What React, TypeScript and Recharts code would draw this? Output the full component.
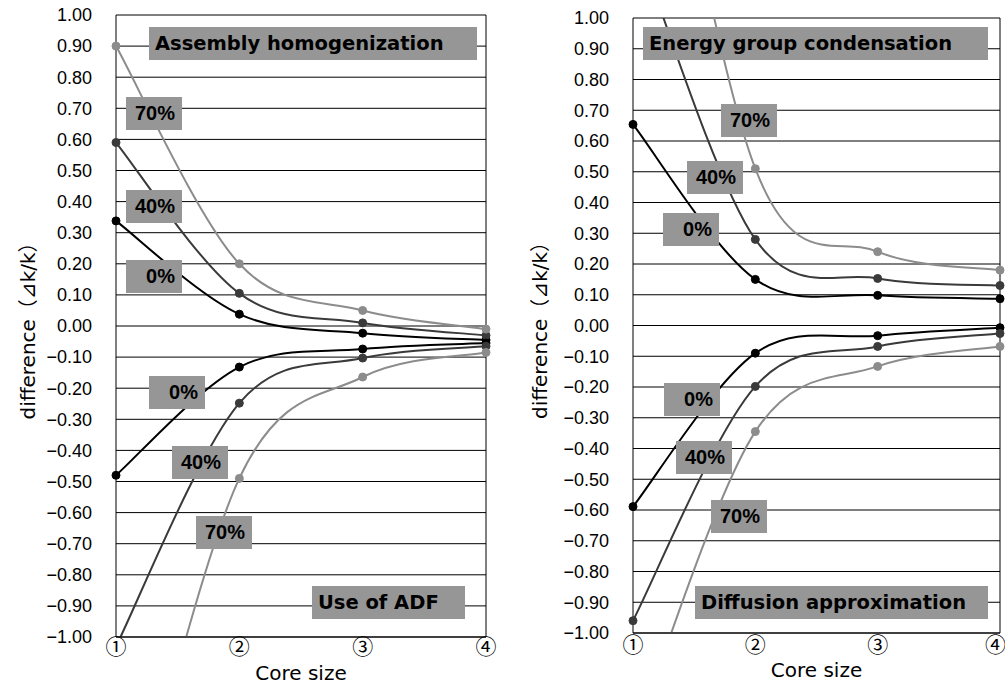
import React from 'react';
import {
  LineChart,
  Line,
  XAxis,
  YAxis,
  CartesianGrid,
  ReferenceLine,
} from 'recharts';

const categories = ['①', '②', '③', '④'];
const yTicks = [
  -1, -0.9, -0.8, -0.7, -0.6, -0.5, -0.4, -0.3, -0.2, -0.1, 0, 0.1, 0.2, 0.3,
  0.4, 0.5, 0.6, 0.7, 0.8, 0.9, 1,
];

// left panel, upper group: assembly homogenization
const ah0 = [0.338, 0.038, -0.023, -0.045];
const ah40 = [0.59, 0.105, 0.01, -0.03];
const ah70 = [0.9, 0.2, 0.05, -0.01];
// left panel, lower group: use of ADF
const adf0 = [-0.48, -0.132, -0.074, -0.055];
const adf40 = [-1.03, -0.248, -0.103, -0.065];
const adf70 = [-1.85, -0.49, -0.164, -0.085];

// right panel, upper group: energy group condensation
const egc0 = [0.654, 0.15, 0.098, 0.087];
const egc40 = [1.28, 0.28, 0.153, 0.13];
const egc70 = [2.3, 0.51, 0.24, 0.18];
// right panel, lower group: diffusion approximation
const dif0 = [-0.589, -0.09, -0.033, -0.007];
const dif40 = [-0.96, -0.198, -0.068, -0.026];
const dif70 = [-1.35, -0.345, -0.133, -0.068];

const C0 = '#000000';
const C40 = '#3a3a3a';
const C70 = '#8c8c8c';
const BOX = '#969696';

const leftData = categories.map((cat, i) => ({
  cat,
  a0: ah0[i],
  a40: ah40[i],
  a70: ah70[i],
  b0: adf0[i],
  b40: adf40[i],
  b70: adf70[i],
}));

const rightData = categories.map((cat, i) => ({
  cat,
  a0: egc0[i],
  a40: egc40[i],
  a70: egc70[i],
  b0: dif0[i],
  b40: dif40[i],
  b70: dif70[i],
}));

const seriesList = [
  { key: 'a0', color: C0 },
  { key: 'a40', color: C40 },
  { key: 'a70', color: C70 },
  { key: 'b0', color: C0 },
  { key: 'b40', color: C40 },
  { key: 'b70', color: C70 },
];

// Excel-like smoothed line (Catmull-Rom through the points)
const smoothCurve = (context: any) => {
  let xs: number[] = [];
  let ys: number[] = [];
  return {
    areaStart() {},
    areaEnd() {},
    lineStart() {
      xs = [];
      ys = [];
    },
    lineEnd() {
      const n = xs.length;
      if (!n) return;
      context.moveTo(xs[0], ys[0]);
      for (let i = 0; i < n - 1; i++) {
        const p = Math.max(i - 1, 0);
        const q = Math.min(i + 2, n - 1);
        context.bezierCurveTo(
          xs[i] + (xs[i + 1] - xs[p]) / 6,
          ys[i] + (ys[i + 1] - ys[p]) / 6,
          xs[i + 1] - (xs[q] - xs[i]) / 6,
          ys[i + 1] - (ys[q] - ys[i]) / 6,
          xs[i + 1],
          ys[i + 1]
        );
      }
    },
    point(x: number, y: number) {
      xs.push(+x);
      ys.push(+y);
    },
  };
};

const fmt = (v: number) => (v < 0 ? '\u2212' : '') + Math.abs(v).toFixed(2);

type Note = { text: string; x: number; y: number; w: number; pct?: boolean };

const notes: Note[] = [
  { text: 'Assembly homogenization', x: 149, y: 27, w: 328 },
  { text: '70%', x: 126, y: 97, w: 56, pct: true },
  { text: '40%', x: 126, y: 190, w: 56, pct: true },
  { text: '0%', x: 126, y: 260, w: 56, pct: true },
  { text: '0%', x: 149, y: 376, w: 56, pct: true },
  { text: '40%', x: 172, y: 446, w: 56, pct: true },
  { text: '70%', x: 196, y: 516, w: 56, pct: true },
  { text: 'Use of ADF', x: 312, y: 586, w: 153 },
  { text: 'Energy group condensation', x: 643, y: 27, w: 345 },
  { text: '70%', x: 721, y: 104, w: 56, pct: true },
  { text: '40%', x: 687, y: 161, w: 56, pct: true },
  { text: '0%', x: 663, y: 213, w: 56, pct: true },
  { text: '0%', x: 664, y: 383, w: 56, pct: true },
  { text: '40%', x: 676, y: 441, w: 56, pct: true },
  { text: '70%', x: 711, y: 500, w: 56, pct: true },
  { text: 'Diffusion approximation', x: 695, y: 586, w: 293 },
];

const Panel = ({
  data,
  left,
  width,
  top,
  right,
  xAxisHeight,
  xLabelOffset,
  xTickMargin,
  yLabelOffset,
}: {
  data: any[];
  left: number;
  width: number;
  top: number;
  right: number;
  xAxisHeight: number;
  xLabelOffset: number;
  xTickMargin: number;
  yLabelOffset: number;
}) => (
  <div style={{ position: 'absolute', left, top: 0 }}>
    <LineChart
      width={width}
      height={686}
      data={data}
      margin={{ top, right, left: 0, bottom: 0 }}
    >
      <CartesianGrid vertical={false} stroke="#000" strokeWidth={1} />
      <XAxis
        dataKey="cat"
        axisLine={{ stroke: '#000' }}
        tickLine={false}
        tickSize={0}
        tickMargin={xTickMargin}
        height={xAxisHeight}
        tick={{ fill: '#000', fontSize: 21, fontFamily: 'Noto Sans CJK JP' }}
        label={{
          value: 'Core size',
          position: 'insideBottom',
          offset: xLabelOffset,
          style: { fill: '#000', fontSize: 20, fontFamily: 'DejaVu Sans' },
        }}
      />
      <YAxis
        type="number"
        domain={[-1, 1]}
        ticks={yTicks}
        allowDataOverflow
        width={116}
        tickFormatter={fmt}
        axisLine={{ stroke: '#000' }}
        tickLine={false}
        tickSize={0}
        tickMargin={24}
        tick={{ fill: '#000', fontSize: 18, fontFamily: 'Liberation Sans' }}
        label={{
          value: 'difference（⊿k/k）',
          angle: -90,
          position: 'insideLeft',
          offset: yLabelOffset,
          style: {
            fill: '#000',
            fontSize: 20,
            fontFamily: 'DejaVu Sans, Noto Sans CJK JP',
            textAnchor: 'middle',
          },
        }}
      />
      <ReferenceLine x="④" stroke="#000" strokeWidth={1} />
      {seriesList.map((s) => (
        <Line
          key={s.key}
          dataKey={s.key}
          type={smoothCurve as any}
          stroke={s.color}
          strokeWidth={2}
          dot={{ r: 4, fill: s.color, stroke: s.color, strokeWidth: 1 }}
          isAnimationActive={false}
        />
      ))}
    </LineChart>
  </div>
);

const App = () => (
  <div
    style={{
      position: 'absolute',
      left: 0,
      top: 0,
      width: 1005,
      height: 686,
      background: '#fff',
      overflow: 'hidden',
    }}
  >
    <Panel
      data={leftData}
      left={0}
      width={500}
      top={15}
      right={14}
      xAxisHeight={49}
      xLabelOffset={6}
      xTickMargin={2}
      yLabelOffset={28}
    />
    <Panel
      data={rightData}
      left={517}
      width={488}
      top={18}
      right={5}
      xAxisHeight={53}
      xLabelOffset={9}
      xTickMargin={4}
      yLabelOffset={23}
    />
    {notes.map((n, i) => (
      <div
        key={i}
        style={{
          position: 'absolute',
          left: n.x,
          top: n.y,
          width: n.w,
          height: 33,
          background: BOX,
          boxSizing: 'border-box',
          display: 'flex',
          alignItems: 'center',
          justifyContent: n.pct ? 'flex-end' : 'flex-start',
          paddingLeft: n.pct ? 0 : 6,
          paddingRight: n.pct ? 7 : 0,
          fontWeight: 'bold',
          fontSize: n.pct ? 20 : 19.5,
          fontFamily: n.pct ? 'Liberation Sans' : 'DejaVu Sans',
          color: '#000',
          whiteSpace: 'nowrap',
        }}
      >
        {n.text}
      </div>
    ))}
  </div>
);

export default App;
